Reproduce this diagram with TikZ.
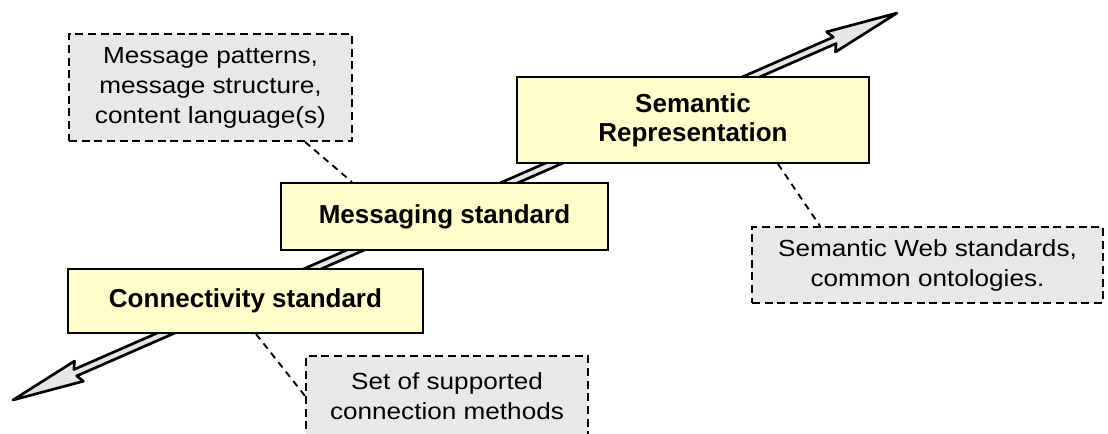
\documentclass[tikz,border=0pt]{standalone}
\usepackage{fontspec}
\setmainfont{Liberation Sans}
\newfontfamily\notefont{Liberation Sans}[FakeStretch=1.12]
\usetikzlibrary{calc}

\definecolor{boxyellow}{HTML}{FFFFCC}
\definecolor{notegray}{HTML}{E8E8E8}
\definecolor{shaftgray}{HTML}{E6E6E6}

\tikzset{
  layerbox/.style={draw=black, line width=1.5pt, fill=boxyellow, align=center,
    inner sep=0pt, font=\fontsize{19.5}{21.75}\selectfont\bfseries},
  notebox/.style={draw=black, line width=1.4pt, dash pattern=on 6pt off 3.5pt,
    fill=notegray, align=center, inner sep=0pt,
    font=\notefont\fontsize{17.5}{22.5}\selectfont},
  leader/.style={draw=black, line width=1.4pt, dash pattern=on 5pt off 4pt},
  bigarrow/.style={draw=black, line width=2pt, line join=round, fill=shaftgray}
}

\begin{document}
\begin{tikzpicture}[x=0.75pt, y=-0.75pt]
\useasboundingbox (0,0) rectangle (1108,434);

% double-headed hollow arrow along the diagonal
\begin{scope}[shift={(13,400)}, rotate=23.64]
  \def\L{965}
  \path[bigarrow] (0,0) -- (72,-11) -- (68,-3.5) -- (\L-68,-3.5) -- (\L-72,-11)
    -- (\L,0) -- (\L-72,11) -- (\L-68,3.5) -- (68,3.5) -- (72,11) -- cycle;
\end{scope}

% layer boxes
\node[layerbox, minimum width=264pt, minimum height=64.5pt] (sem) at (693,120)
  {Semantic\\Representation};
\node[layerbox, minimum width=245.25pt, minimum height=50.25pt] (msg) at (444.5,216.5)
  {Messaging standard};
\node[layerbox, minimum width=266.25pt, minimum height=48pt] (conn) at (245.5,301)
  {Connectivity standard};

% notes
\node[notebox, minimum width=212.25pt, minimum height=80.25pt] (noteMsg) at (210.5,87.5)
  {Message patterns,\\message structure,\\content language(s)};
\node[notebox, minimum width=263.25pt, minimum height=57pt] (noteSem) at (927.5,265)
  {Semantic Web standards,\\common ontologies.};
\node[notebox, minimum width=211.5pt, minimum height=60pt] (noteConn) at (447,396)
  {Set of supported\\connection methods};

% leaders from notes to boxes
\draw[leader] ([xshift=70.9pt]noteMsg.south) -- ([xshift=-69.4pt]msg.north);
\draw[leader] ([xshift=63.75pt]sem.south) -- ([xshift=-80.6pt]noteSem.north);
\draw[leader] ([xshift=7.9pt]conn.south) -- (noteConn.west);
\end{tikzpicture}
\end{document}
